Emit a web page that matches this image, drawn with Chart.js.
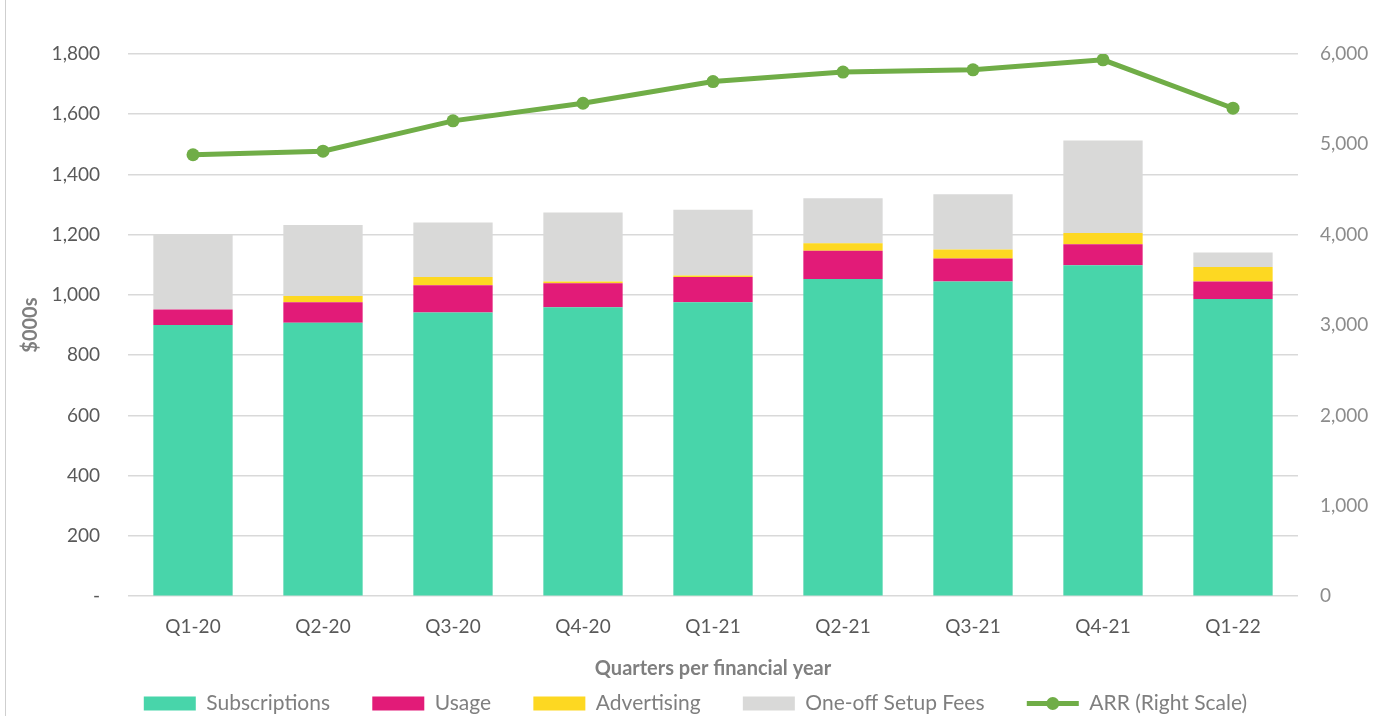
<!DOCTYPE html>
<html>
<head>
<meta charset="utf-8">
<title>Revenue by quarter</title>
<script src="https://cdn.jsdelivr.net/npm/chart.js@4.4.1/dist/chart.umd.min.js"></script>
<style>
  html, body { margin: 0; padding: 0; background: #fff; }
  #wrap { position: relative; width: 1391px; height: 716px; }
  #frame { position: absolute; left: 5px; top: 0; width: 1px; height: 716px; background: #cfcfcf; }
</style>
</head>
<body>
<div id="wrap">
  <canvas id="mycanvas" width="1391" height="716"></canvas>
  <div id="frame"></div>
</div>
<script>
// data ($000s, ARR on right scale)
var quarters = ['Q1-20', 'Q2-20', 'Q3-20', 'Q4-20', 'Q1-21', 'Q2-21', 'Q3-21', 'Q4-21', 'Q1-22'];
var subscriptions = [900, 908, 942, 959, 976, 1053, 1045, 1099, 987];
var usage = [52, 68, 90, 80, 84, 94, 76, 69, 58];
var advertising = [0, 21, 28, 6, 5, 25, 30, 38, 48];
var setupFees = [249, 235, 181, 229, 218, 149, 183, 307, 48];
var arr = [4885, 4925, 5260, 5455, 5695, 5800, 5825, 5935, 5400];

var leftTicks = [0, 200, 400, 600, 800, 1000, 1200, 1400, 1600, 1800];
var rightTicks = [0, 1000, 2000, 3000, 4000, 5000, 6000];

var fontName = "Lato, 'Liberation Sans', sans-serif";
Chart.defaults.font.family = fontName;
Chart.defaults.font.size = 19;

var legendGap = '      ';

// small circle on the ARR legend line
var legendMarker = {
  id: 'legendMarker',
  afterDraw: function(chart) {
    var lg = chart.legend;
    if (!lg || !lg.legendHitBoxes) return;
    var items = lg.legendItems;
    for (var i = 0; i < items.length; i++) {
      var ds = chart.data.datasets[items[i].datasetIndex];
      if (ds.type !== 'line') continue;
      var hb = lg.legendHitBoxes[i];
      var ctx = chart.ctx;
      ctx.save();
      ctx.fillStyle = ds.borderColor;
      ctx.beginPath();
      ctx.arc(hb.left + 26, hb.top + hb.height / 2, 6.5, 0, Math.PI * 2);
      ctx.fill();
      ctx.restore();
    }
  }
};

var chartdata = {
  labels: quarters,
  datasets: [
    {
      label: 'Subscriptions',
      data: subscriptions,
      backgroundColor: '#48D5AA',
      yAxisID: 'y',
      order: 1
    },
    {
      label: 'Usage',
      data: usage,
      backgroundColor: '#E21B78',
      yAxisID: 'y',
      order: 1
    },
    {
      label: 'Advertising',
      data: advertising,
      backgroundColor: '#FDD822',
      yAxisID: 'y',
      order: 1
    },
    {
      label: 'One-off Setup Fees',
      data: setupFees,
      backgroundColor: '#D9D9D8',
      yAxisID: 'y',
      order: 1
    },
    {
      type: 'line',
      label: 'ARR (Right Scale)',
      data: arr,
      borderColor: '#70AD47',
      backgroundColor: '#70AD47',
      borderWidth: 5,
      pointRadius: 6.5,
      pointBackgroundColor: '#70AD47',
      pointBorderWidth: 0,
      tension: 0,
      yAxisID: 'y1',
      order: 0
    }
  ]
};

var ctx = document.getElementById('mycanvas');

var barGraph = new Chart(ctx, {
  type: 'bar',
  data: chartdata,
  plugins: [legendMarker],
  options: {
    responsive: false,
    devicePixelRatio: 1,
    animation: false,
    layout: { padding: { top: 54, bottom: -8, left: 0, right: 0 } },
    datasets: {
      bar: { barPercentage: 0.61, categoryPercentage: 1, borderWidth: 0 }
    },
    plugins: {
      tooltip: { enabled: false },
      legend: {
        position: 'bottom',
        labels: {
          usePointStyle: true,
          pointStyleWidth: 52,
          boxHeight: 14,
          padding: 10,
          color: '#7F7F7F',
          font: { size: 21 },
          sort: function(a, b) { return a.datasetIndex - b.datasetIndex; },
          generateLabels: function(chart) {
            var items = Chart.defaults.plugins.legend.labels.generateLabels(chart);
            items.sort(function(a, b) { return a.datasetIndex - b.datasetIndex; });
            items.forEach(function(item, i) {
              var ds = chart.data.datasets[item.datasetIndex];
              if (ds.type === 'line') {
                item.pointStyle = 'line';
                item.lineWidth = ds.borderWidth;
                item.strokeStyle = ds.borderColor;
              } else {
                item.pointStyle = 'rect';
                item.lineWidth = 0;
              }
              if (i < items.length - 1) item.text = item.text + legendGap;
            });
            return items;
          }
        }
      }
    },
    scales: {
      x: {
        stacked: true,
        afterFit: function(scale) { scale.height = scale.height - 16; },
        grid: { display: false, drawTicks: false },
        border: { display: false },
        ticks: { color: '#595959', padding: 19, font: { size: 19 } },
        title: {
          display: true,
          text: 'Quarters per financial year',
          color: '#7F7F7F',
          font: { size: 20, weight: 'bold' },
          padding: { top: 16, bottom: 2 }
        }
      },
      y: {
        stacked: true,
        position: 'left',
        min: 0,
        max: 1800,
        afterFit: function(scale) { scale.width = 128; },
        afterBuildTicks: function(scale) {
          scale.ticks = leftTicks.map(function(v) { return { value: v }; });
        },
        grid: { color: '#D9D9D9', lineWidth: 1.5, drawTicks: false },
        border: { display: false },
        ticks: {
          color: '#595959',
          padding: 28,
          font: { size: 19 },
          callback: function(v) { return v === 0 ? '-' : v.toLocaleString('en-US'); }
        },
        title: {
          display: true,
          text: '$000s',
          color: '#7F7F7F',
          font: { size: 20, weight: 'bold' },
          padding: { top: 19, bottom: 0 }
        }
      },
      y1: {
        position: 'right',
        stacked: false,
        min: 0,
        max: 6000,
        afterFit: function(scale) { scale.width = 93; },
        afterBuildTicks: function(scale) {
          scale.ticks = rightTicks.map(function(v) { return { value: v }; });
        },
        grid: { display: false, drawTicks: false },
        border: { display: false },
        ticks: {
          color: '#8C8C8C',
          padding: 22,
          font: { size: 19 },
          callback: function(v) { return v.toLocaleString('en-US'); }
        }
      }
    }
  }
});
</script>
</body>
</html>
